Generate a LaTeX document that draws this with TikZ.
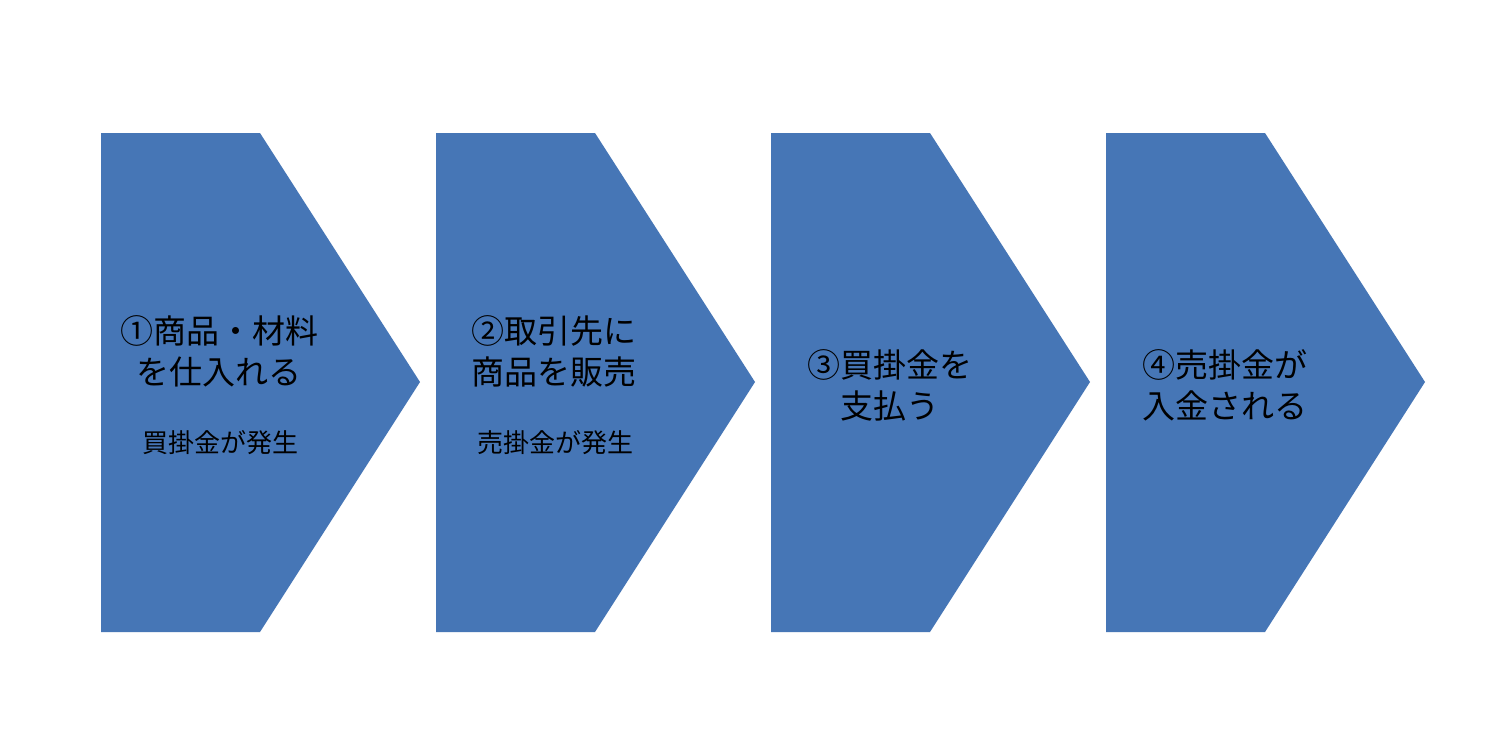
\documentclass[tikz,border=0pt]{standalone}
\usepackage{fontspec}
\setmainfont{Noto Sans CJK JP}
\definecolor{chev}{RGB}{70,118,182}
\tikzset{
  chevshape/.style={fill=chev, draw=none},
  mainlbl/.style={font=\fontsize{33}{41}\selectfont, align=center, inner sep=0pt, text=black},
  sublbl/.style={font=\fontsize{26}{30}\selectfont, inner sep=0pt, text=black}
}
\begin{document}
\begin{tikzpicture}[x=1pt,y=-1pt]
\useasboundingbox (0,0) rectangle (1494,732);
\fill[white] (0,0) rectangle (1494,732);
\foreach \i/\x in {1/101,2/436,3/771,4/1106}{
  \fill[chevshape] (\x,133) -- ++(159,0) -- ++(160,249) -- ++(-160,250) -- ++(-159,0) -- cycle;
}
\node[mainlbl] (t1) at (219,351.5) {①商品・材料\\を仕入れる};
\node[sublbl] (s1) at (220,443) {買掛金が発生};
\node[mainlbl] (t2) at (554,351.5) {②取引先に\\商品を販売};
\node[sublbl] (s2) at (555,443) {売掛金が発生};
\node[mainlbl] (t3) at (890,385.5) {③買掛金を\\支払う};
\node[mainlbl] (t4) at (1225,385.5) {④売掛金が\\入金される};
\end{tikzpicture}
\end{document}
